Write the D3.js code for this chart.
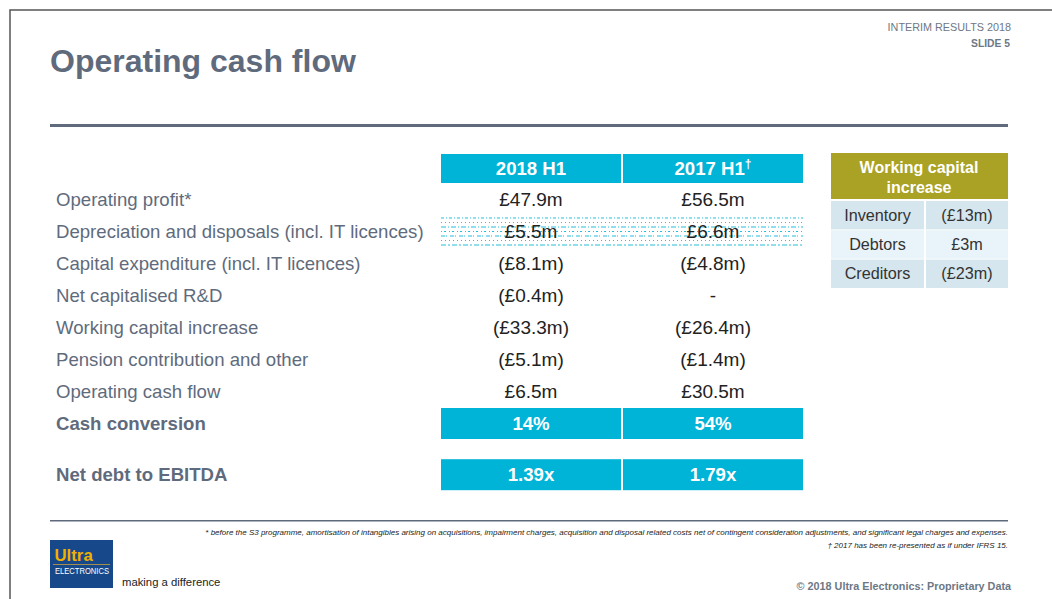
<!DOCTYPE html>
<html>
<head>
<meta charset="utf-8">
<script src="https://cdn.jsdelivr.net/npm/d3@7"></script>
<style>
  body { margin: 0; background: #fff; }
  svg text { font-family: "Liberation Sans", Arial, sans-serif; }
</style>
</head>
<body>
<svg id="slide" width="1052" height="599"></svg>
<script>
// table data
var periods = ["2018 H1", "2017 H1"];
var rowLabels = ["Operating profit*", "Depreciation and disposals (incl. IT licences)",
  "Capital expenditure (incl. IT licences)", "Net capitalised R&D", "Working capital increase",
  "Pension contribution and other", "Operating cash flow"];
var values2018 = ["£47.9m", "£5.5m", "(£8.1m)", "(£0.4m)", "(£33.3m)", "(£5.1m)", "£6.5m"];
var values2017 = ["£56.5m", "£6.6m", "(£4.8m)", "-", "(£26.4m)", "(£1.4m)", "£30.5m"];
var ratioLabels = ["Cash conversion", "Net debt to EBITDA"];
var ratios2018 = ["14%", "1.39x"];
var ratios2017 = ["54%", "1.79x"];
var wcItems = ["Inventory", "Debtors", "Creditors"];
var wcValues = ["(£13m)", "£3m", "(£23m)"];

var svg = d3.select("#slide"),
    grey = "#5f6b7c",
    cyan = "#00b4d8",
    olive = "#a9a224",
    fs = 18.6;

// frame
svg.append("path").attr("d", "M10,600V10H1052").attr("fill", "none")
  .attr("stroke", "#555").attr("stroke-width", 1.5);

// header texts
svg.append("text").attr("x", 50).attr("y", 72).text("Operating cash flow")
  .attr("font-size", 32).attr("font-weight", "bold").attr("fill", grey);
svg.append("text").attr("x", 1011).attr("y", 31).attr("text-anchor", "end")
  .attr("font-size", 10.8).attr("fill", "#6d7785").text("INTERIM RESULTS 2018");
svg.append("text").attr("x", 1010).attr("y", 47).attr("text-anchor", "end")
  .attr("font-size", 10.3).attr("font-weight", "bold").attr("fill", "#6d7785").text("SLIDE 5");
svg.append("rect").attr("x", 50).attr("y", 124).attr("width", 958).attr("height", 3).attr("fill", grey);

// scales
var x = d3.scaleBand().domain(periods).range([441, 803]).paddingInner(0.011);
var y = d3.scaleLinear().domain([0, 7]).range([199, 423]);
var rowH = 30;

// column headers
var head = svg.append("g");
head.selectAll("rect").data(periods).join("rect")
  .attr("x", function (d) { return x(d); }).attr("y", 154)
  .attr("width", x.bandwidth()).attr("height", 29).attr("fill", cyan);
head.selectAll("text").data(periods).join("text")
  .attr("x", function (d) { return x(d) + x.bandwidth() / 2; }).attr("y", 175)
  .attr("text-anchor", "middle").attr("font-size", fs).attr("font-weight", "bold")
  .attr("fill", "#fff")
  .each(function (d, i) {
    d3.select(this).append("tspan").text(d);
    if (i == 1) d3.select(this).append("tspan").attr("dy", -7).attr("font-size", 12).text("†");
  });

// dotted selection frame on the depreciation row
var dots = svg.append("g").attr("stroke", cyan).attr("stroke-width", 1.1).attr("opacity", 0.85);
var dash = ["3,2,1,2", "1,3", "5,2,1,2", "1,2,2,3", "4,1,1,3", "1,3", "5,2,2,2"];
dash.forEach(function (p, k) {
  var yy = y(1) - 13 + k * 4.5;
  dots.append("line").attr("x1", 441).attr("x2", 803).attr("y1", yy).attr("y2", yy)
    .attr("stroke-dasharray", p);
});

// line items
var rows = svg.append("g").selectAll("g").data(rowLabels).join("g")
  .attr("transform", function (d, i) { return "translate(0," + y(i) + ")"; });
rows.append("text").attr("x", 56).attr("dy", "0.35em").attr("font-size", fs)
  .attr("fill", grey).text(function (d) { return d; });
rows.append("text").attr("x", x(periods[0]) + x.bandwidth() / 2).attr("dy", "0.35em")
  .attr("text-anchor", "middle").attr("font-size", fs + 0.4).attr("fill", "#222")
  .text(function (d, i) { return values2018[i]; });
rows.append("text").attr("x", x(periods[1]) + x.bandwidth() / 2).attr("dy", "0.35em")
  .attr("text-anchor", "middle").attr("font-size", fs + 0.4).attr("fill", "#222")
  .text(function (d, i) { return values2017[i]; });

// ratio rows
var ratioY = [y(7), y(8.6)];
var ratio = svg.append("g").selectAll("g").data(ratioLabels).join("g")
  .attr("transform", function (d, i) { return "translate(0," + ratioY[i] + ")"; });
ratio.append("text").attr("x", 56).attr("dy", "0.35em").attr("font-size", fs)
  .attr("font-weight", "bold").attr("fill", grey).text(function (d) { return d; });
[ratios2018, ratios2017].forEach(function (vals, c) {
  ratio.append("rect").attr("x", x(periods[c])).attr("y", -rowH / 2)
    .attr("width", x.bandwidth()).attr("height", rowH + 1).attr("fill", cyan);
  ratio.append("text").attr("x", x(periods[c]) + x.bandwidth() / 2).attr("dy", "0.35em")
    .attr("text-anchor", "middle").attr("font-size", fs).attr("font-weight", "bold")
    .attr("fill", "#fff").text(function (d, i) { return vals[i]; });
});

// working capital side table
var wy = d3.scaleBand().domain(wcItems).range([201, 288]).paddingInner(0.03);
svg.append("rect").attr("x", 831).attr("y", 153).attr("width", 177).attr("height", 46).attr("fill", olive);
svg.append("text").attr("x", 919).attr("y", 173).attr("text-anchor", "middle")
  .attr("font-size", 16).attr("font-weight", "bold").attr("fill", "#fff").text("Working capital");
svg.append("text").attr("x", 919).attr("y", 193).attr("text-anchor", "middle")
  .attr("font-size", 16).attr("font-weight", "bold").attr("fill", "#fff").text("increase");
var wc = svg.append("g").selectAll("g").data(wcItems).join("g")
  .attr("transform", function (d) { return "translate(0," + wy(d) + ")"; });
wc.append("rect").attr("x", 831).attr("width", 93).attr("height", wy.bandwidth())
  .attr("fill", function (d, i) { return i % 2 ? "#e9f4fa" : "#d5e6ee"; });
wc.append("rect").attr("x", 926).attr("width", 82).attr("height", wy.bandwidth())
  .attr("fill", function (d, i) { return i % 2 ? "#e9f4fa" : "#d5e6ee"; });
wc.append("text").attr("x", 877.5).attr("y", wy.bandwidth() / 2).attr("dy", "0.35em")
  .attr("text-anchor", "middle").attr("font-size", 16.2).attr("fill", "#333").text(function (d) { return d; });
wc.append("text").attr("x", 967).attr("y", wy.bandwidth() / 2).attr("dy", "0.35em")
  .attr("text-anchor", "middle").attr("font-size", 16.2).attr("fill", "#333")
  .text(function (d, i) { return wcValues[i]; });

// footer
svg.append("rect").attr("x", 50).attr("y", 520).attr("width", 958).attr("height", 1.5).attr("fill", grey);
svg.append("text").attr("x", 1008).attr("y", 535).attr("text-anchor", "end")
  .attr("font-size", 8).attr("font-style", "italic").attr("fill", "#222")
  .text("* before the S3 programme, amortisation of intangibles arising on acquisitions, impairment charges, acquisition and disposal related costs net of contingent consideration adjustments, and significant legal charges and expenses.");
svg.append("text").attr("x", 1008).attr("y", 548).attr("text-anchor", "end")
  .attr("font-size", 8).attr("font-style", "italic").attr("fill", "#222")
  .text("† 2017 has been re-presented as if under IFRS 15.");

// logo
var logo = svg.append("g").attr("transform", "translate(50,540)");
logo.append("rect").attr("width", 63).attr("height", 48).attr("fill", "#17498a");
logo.append("text").attr("x", 4.5).attr("y", 21).attr("font-size", 16.8).attr("font-weight", "bold")
  .attr("fill", "#f0b000").text("Ultra");
logo.append("line").attr("x1", 3).attr("x2", 60).attr("y1", 24.5).attr("y2", 24.5)
  .attr("stroke", "#c9a040").attr("stroke-width", 0.8);
logo.append("text").attr("x", 5).attr("y", 34).attr("font-size", 9.5).attr("fill", "#fff")
  .attr("textLength", 54).attr("lengthAdjust", "spacingAndGlyphs").text("ELECTRONICS");
svg.append("text").attr("x", 122).attr("y", 586).attr("font-size", 11.3).attr("fill", "#222")
  .text("making a difference");
svg.append("text").attr("x", 1011).attr("y", 590).attr("text-anchor", "end")
  .attr("font-size", 10.8).attr("font-weight", "bold").attr("fill", "#6d7785")
  .text("© 2018 Ultra Electronics: Proprietary Data");
</script>
</body>
</html>
